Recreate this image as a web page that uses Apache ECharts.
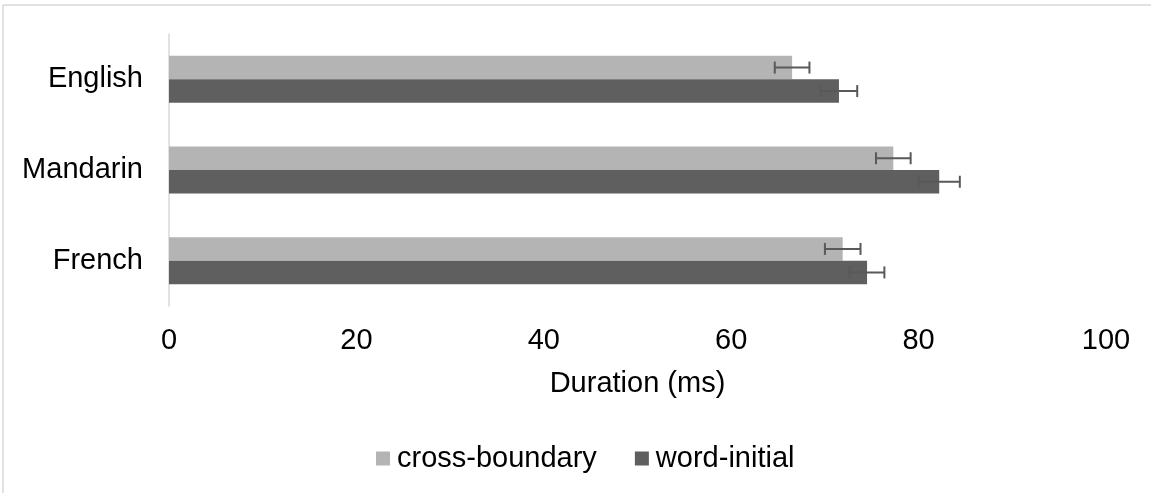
<!DOCTYPE html>
<html>
<head>
<meta charset="utf-8">
<script src="https://cdn.jsdelivr.net/npm/echarts@6/dist/echarts.min.js"></script>
<style>
  html, body { margin: 0; padding: 0; background: #fff; }
  #chart { width: 1151px; height: 493px; }
</style>
</head>
<body>
<div id="chart"></div>
<script>
// Languages, top to bottom
const categories = ['English', 'Mandarin', 'French'];
// Mean durations (ms)
const crossBoundary = [66.5, 77.3, 71.9];
const wordInitial = [71.5, 82.2, 74.5];
// Standard error half-widths (ms)
const crossBoundaryErr = [1.85, 1.85, 1.9];
const wordInitialErr = [1.95, 2.2, 1.85];
// Value axis ticks
const xTicks = [0, 20, 40, 60, 80, 100];

const LIGHT = '#b4b4b4';
const DARK = '#5f5f5f';
const ERR = '#595959';
const FONT = 'Liberation Sans, Arial, sans-serif';
const FS = 29;
const BAR_W = 23.5;

// Error bars drawn over each bar; slot -1 = upper bar, +1 = lower bar
function errorSeries(name, means, errs, slot) {
  return {
    type: 'custom',
    name: name + ' error',
    z: 5,
    silent: true,
    data: means.map((m, i) => [i, m, errs[i]]),
    encode: { x: 1, y: 0 },
    renderItem: function (params, api) {
      const cat = api.value(0);
      const mean = api.value(1);
      const err = api.value(2);
      const lo = api.coord([mean - err, cat]);
      const hi = api.coord([mean + err, cat]);
      const y = lo[1] + slot * BAR_W / 2;
      const cap = 6;
      const style = { stroke: ERR, lineWidth: 2 };
      return {
        type: 'group',
        children: [
          { type: 'line', shape: { x1: lo[0], y1: y, x2: hi[0], y2: y }, style },
          { type: 'line', shape: { x1: lo[0], y1: y - cap, x2: lo[0], y2: y + cap }, style },
          { type: 'line', shape: { x1: hi[0], y1: y - cap, x2: hi[0], y2: y + cap }, style }
        ]
      };
    }
  };
}

const chart = echarts.init(document.getElementById('chart'), null, { renderer: 'canvas' });
chart.setOption({
  animation: false,
  textStyle: { fontFamily: FONT },
  grid: { left: 169, right: 45, top: 34, bottom: 187, containLabel: false },
  graphic: [
    { type: 'line', shape: { x1: 3, y1: 5, x2: 1151, y2: 5 }, style: { stroke: '#d9d9d9', lineWidth: 1.5 } },
    { type: 'line', shape: { x1: 3, y1: 5, x2: 3, y2: 493 }, style: { stroke: '#d9d9d9', lineWidth: 1.5 } }
  ],
  legend: {
    bottom: 20,
    left: 376,
    padding: 0,
    itemWidth: 14,
    itemHeight: 14,
    itemGap: 38,
    icon: 'rect',
    textStyle: { fontSize: FS, color: '#000', fontFamily: FONT, padding: [0, 0, 0, 2] },
    data: ['cross-boundary', 'word-initial']
  },
  xAxis: {
    type: 'value',
    min: xTicks[0],
    max: xTicks[xTicks.length - 1],
    interval: xTicks[1] - xTicks[0],
    axisLine: { show: false },
    axisTick: { show: false },
    splitLine: { show: false },
    axisLabel: { fontSize: FS, color: '#000', margin: 20, fontFamily: FONT },
    name: 'Duration (ms)',
    nameLocation: 'middle',
    nameGap: 63,
    nameTextStyle: { fontSize: FS, color: '#000', fontFamily: FONT }
  },
  yAxis: {
    type: 'category',
    data: categories,
    inverse: true,
    axisLine: { show: true, lineStyle: { color: '#d9d9d9', width: 1.5 } },
    axisTick: { show: false },
    axisLabel: { fontSize: FS, color: '#000', margin: 26, fontFamily: FONT }
  },
  series: [
    {
      name: 'cross-boundary',
      type: 'bar',
      data: crossBoundary,
      barWidth: BAR_W,
      barGap: '0%',
      itemStyle: { color: LIGHT }
    },
    {
      name: 'word-initial',
      type: 'bar',
      data: wordInitial,
      barWidth: BAR_W,
      barGap: '0%',
      itemStyle: { color: DARK }
    },
    errorSeries('cross-boundary', crossBoundary, crossBoundaryErr, -1),
    errorSeries('word-initial', wordInitial, wordInitialErr, 1)
  ]
});
</script>
</body>
</html>
